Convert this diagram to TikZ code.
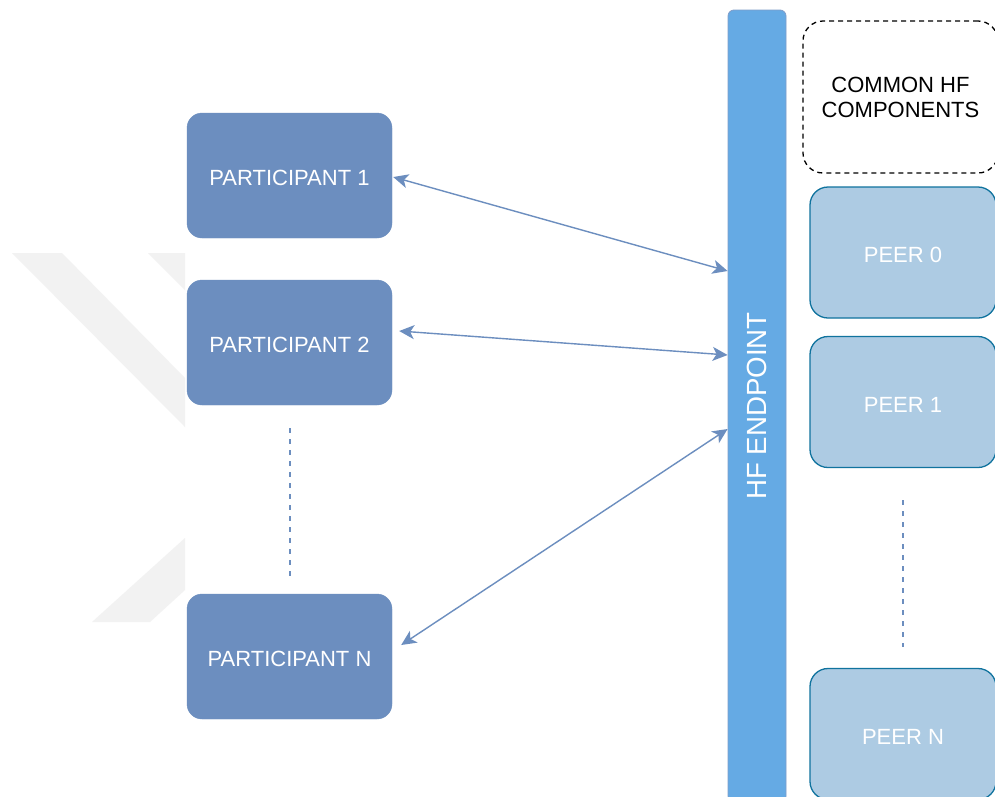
\documentclass[tikz,border=0pt]{standalone}
\usepackage{fontspec}
\setmainfont{Liberation Sans}
\usetikzlibrary{arrows.meta}

\definecolor{partfill}{HTML}{6C8EBF}
\definecolor{barfill}{HTML}{65AAE4}
\definecolor{barline}{HTML}{7F9CC9}
\definecolor{peerfill}{HTML}{ADCBE3}
\definecolor{peerline}{HTML}{10739E}
\definecolor{linkcol}{HTML}{6C8EBF}
\definecolor{markgray}{HTML}{F2F2F2}

\tikzset{
  participant/.style={rectangle, rounded corners=15pt, fill=partfill, draw=partfill,
    minimum width=205pt, minimum height=125pt, inner sep=0pt, text=white,
    text height=20.5pt, font=\fontsize{22}{26}\selectfont},
  peer/.style={rectangle, rounded corners=18pt, fill=peerfill, draw=peerline, line width=1.3pt,
    minimum width=186pt, minimum height=131pt, inner sep=0pt, text=white,
    text height=20pt, font=\fontsize{22}{26}\selectfont},
  common/.style={rectangle, rounded corners=20pt, draw=black, line width=1.3pt,
    dash pattern=on 5pt off 4pt, minimum width=195pt, minimum height=152pt,
    inner sep=0pt, align=center, font=\fontsize{22}{25}\selectfont},
  endpointbar/.style={rectangle, rounded corners=6pt, fill=barfill, draw=barline, line width=0.8pt,
    minimum width=58pt, minimum height=792pt, inner sep=0pt},
  link/.style={draw=linkcol, line width=1.4pt,
    {Stealth[length=15pt,width=14pt,inset=4pt]}-{Stealth[length=15pt,width=14pt,inset=4pt]}},
  ellipsis/.style={draw=linkcol, line width=1.5pt, dash pattern=on 5pt off 6pt},
}

\begin{document}
\begin{tikzpicture}[x=1pt, y=-1pt]
  % page frame
  \useasboundingbox (0,0) rectangle (995,796);
  \fill[white] (0,0) rectangle (995,796);

  % faint background mark
  \fill[markgray] (12,253) -- (62,253) -- (185,378) -- (185,427) -- cycle;
  \fill[markgray] (148,253) -- (185,253) -- (185,290) -- cycle;
  \fill[markgray] (185,538) -- (185,590) -- (150,622) -- (92,622) -- cycle;

  % participants
  \node[participant] (p1) at (289.5,175.5) {PARTICIPANT 1};
  \node[participant] (p2) at (289.5,342.5) {PARTICIPANT 2};
  \node[participant] (pN) at (289.5,656.5) {PARTICIPANT N};
  \draw[ellipsis] ([shift={(0.5,23)}]p2.south) -- ([shift={(0.5,-17)}]pN.north);

  % HF endpoint bar
  \node[endpointbar, label={[rotate=90, text=white, font=\fontsize{27.7}{30}\selectfont]center:HF ENDPOINT}]
    (hf) at (757,406) {};

  % common components and peers
  \node[common] (cmn) at (900.5,97) {COMMON HF\\COMPONENTS};
  \node[peer] (peer0) at (903,252.5) {PEER 0};
  \node[peer] (peer1) at (903,402) {PEER 1};
  \node[peer] (peerN) at (903,734) {PEER N};
  \draw[ellipsis] ([yshift=-32pt]peer1.south) -- ([yshift=21pt]peerN.north);

  % links between participants and the endpoint
  \draw[link] ([shift={(1,1.5)}]p1.east) -- (hf.west |- 0,271);
  \draw[link] ([shift={(7,-11.5)}]p2.east) -- (hf.west |- 0,355);
  \draw[link] ([shift={(9,-11.5)}]pN.east) -- (hf.west |- 0,429);
\end{tikzpicture}
\end{document}
